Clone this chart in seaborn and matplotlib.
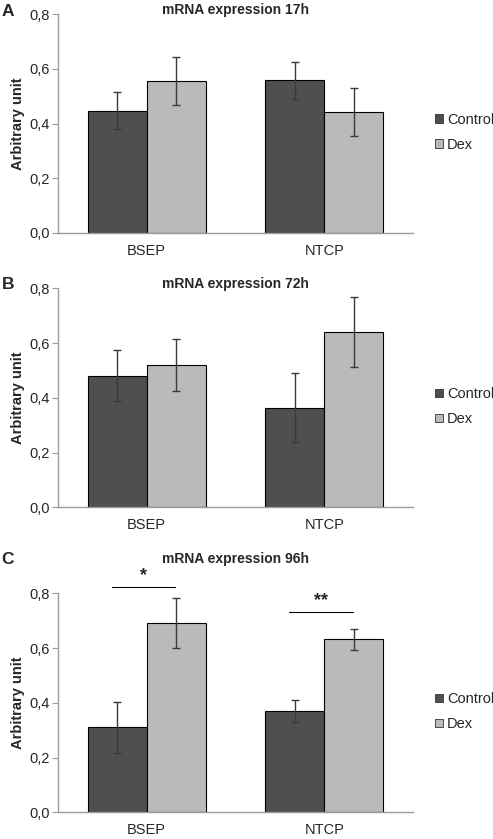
import numpy as np
import pandas as pd
import seaborn as sns
import matplotlib.pyplot as plt
from matplotlib.patches import Patch

sns.set_style("white")
plt.rcParams['font.family'] = ['Liberation Sans', 'DejaVu Sans']

genes = ["BSEP", "NTCP"]
groups = ["Control", "Dex"]
panels = ["A", "B", "C"]
titles = ["mRNA expression 17h", "mRNA expression 72h", "mRNA expression 96h"]

# mean values [gene][group]
control_17h = [0.447, 0.558]
dex_17h = [0.554, 0.442]
control_err_17h = [0.067, 0.068]
dex_err_17h = [0.088, 0.087]

control_72h = [0.481, 0.363]
dex_72h = [0.520, 0.639]
control_err_72h = [0.094, 0.126]
dex_err_72h = [0.095, 0.128]

control_96h = [0.310, 0.369]
dex_96h = [0.692, 0.632]
control_err_96h = [0.094, 0.040]
dex_err_96h = [0.092, 0.039]

# significance markers for 96h: (gene index, line height, label)
sig_96h = [(0, 0.823, "*"), (1, 0.732, "**")]

ctrl_color = "#4f4f4f"
dex_color = "#bababa"
spine_color = "#9a9a9a"

data = [
    (control_17h, dex_17h, control_err_17h, dex_err_17h),
    (control_72h, dex_72h, control_err_72h, dex_err_72h),
    (control_96h, dex_96h, control_err_96h, dex_err_96h),
]

fig = plt.figure(figsize=(4.93, 8.39), dpi=100)
bottoms = [0.7223, 0.3953, 0.0318]
title_y = [1.0, 1.0, 1.137]
letter_off = [3, 4, 34]  # pixels above axes top

for i, (ctrl, dex, ctrl_err, dex_err) in enumerate(data):
    ax = fig.add_axes([0.1176, bottoms[i], 0.720, 0.261])
    df = pd.DataFrame({
        "gene": genes * 2,
        "group": [groups[0]] * 2 + [groups[1]] * 2,
        "value": ctrl + dex,
    })
    sns.barplot(data=df, x="gene", y="value", hue="group", order=genes,
                hue_order=groups, palette=[ctrl_color, dex_color],
                width=0.665, errorbar=None, edgecolor="black", linewidth=0.8,
                ax=ax, legend=False)

    errs = [ctrl_err, dex_err]
    for cont, err in zip(ax.containers, errs):
        xs = [p.get_x() + p.get_width() / 2 for p in cont]
        ys = [p.get_height() for p in cont]
        ax.errorbar(xs, ys, yerr=err, fmt="none", ecolor="#3a3a3a",
                    elinewidth=1.0, capsize=2.8, capthick=1.0, zorder=5)

    ax.set_xlim(-0.5, 1.5)
    ax.set_ylim(0, 0.8)
    ax.set_yticks(np.arange(0, 0.81, 0.2))
    ax.set_yticklabels([f"{v:.1f}".replace(".", ",") for v in np.arange(0, 0.81, 0.2)])
    ax.set_xticks([0, 1])
    ax.set_xticks([-0.5, 0.5, 1.5], minor=True)
    ax.tick_params(axis="x", which="major", length=0, labelsize=10.5, pad=8)
    ax.tick_params(axis="x", which="minor", length=4, color=spine_color, direction="out")
    ax.tick_params(axis="y", length=4, color=spine_color, direction="out", labelsize=10.5, pad=2, left=True)
    ax.set_xlabel("")
    ax.set_ylabel("Arbitrary unit", fontsize=10.5, fontweight="bold", labelpad=3)

    for side in ["top", "right"]:
        ax.spines[side].set_visible(False)
    for side in ["left", "bottom"]:
        ax.spines[side].set_color(spine_color)
        ax.spines[side].set_linewidth(1.0)

    ax.text(0.5, title_y[i], titles[i], transform=ax.transAxes, ha="center",
            va="baseline", fontsize=10, fontweight="bold")

    if i == 2:
        for gi, h, label in sig_96h:
            c0 = ax.containers[0][gi]
            c1 = ax.containers[1][gi]
            x0 = c0.get_x() + c0.get_width() / 2 - 0.03
            x1 = c1.get_x() + c1.get_width() / 2 - 0.005
            ax.plot([x0, x1], [h, h], color="black", lw=0.8, clip_on=False)
            ax.text((x0 + x1) / 2, h + 0.012, label, ha="center", va="bottom",
                    fontsize=13, fontweight="bold")

    handles = [Patch(facecolor=ctrl_color, edgecolor="#333333", linewidth=0.6),
               Patch(facecolor=dex_color, edgecolor="#333333", linewidth=0.6)]
    ax.legend(handles, groups, loc="center left", bbox_to_anchor=(1.045, 0.46),
              frameon=False, fontsize=10.5, handlelength=0.55, handleheight=0.55,
              handletextpad=0.3, labelspacing=0.75, borderaxespad=0.0)

    top_px = (bottoms[i] + 0.261) * 839
    fig.text(0.003, (top_px + letter_off[i]) / 839, panels[i],
             fontsize=12.5, fontweight="bold", va="center", ha="left")

fig.savefig("out.png", dpi=100)
